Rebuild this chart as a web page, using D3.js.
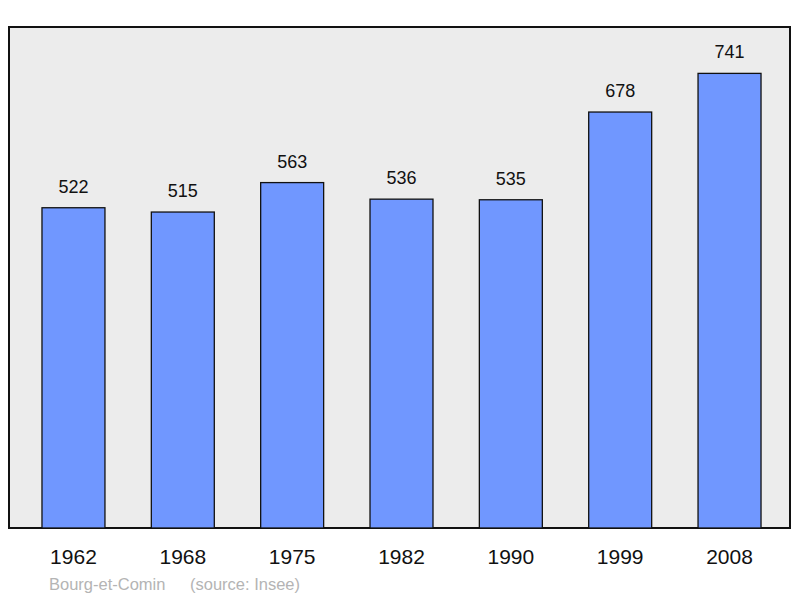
<!DOCTYPE html>
<html><head><meta charset="utf-8">
<script src="https://cdn.jsdelivr.net/npm/d3@7/dist/d3.min.js"></script>
<style>body{margin:0;background:#fff}svg{display:block}text{font-family:"Liberation Sans",Arial,sans-serif}</style>
</head><body><svg id="chart" width="800" height="598"></svg>
<script>
var years = ["1962", "1968", "1975", "1982", "1990", "1999", "2008"];
var population = [522, 515, 563, 536, 535, 678, 741];
var commune = "Bourg-et-Comin";
var source = "(source: Insee)";

var svg = d3.select("#chart");
var plotLeft = 9, plotRight = 790, plotTop = 27, plotBottom = 528;

var x = d3.scaleBand().domain(years).range([18.8, 784.2]).paddingInner(0.424).paddingOuter(0.212);
var y = d3.scaleLinear().domain([0, 816.6]).range([plotBottom, plotTop]);

svg.append("rect")
    .attr("x", plotLeft).attr("y", plotTop)
    .attr("width", plotRight - plotLeft).attr("height", plotBottom - plotTop)
    .attr("fill", "#ececec").attr("stroke", "#111").attr("stroke-width", 2);

svg.selectAll(".bar").data(population).enter().append("rect")
    .attr("class", "bar")
    .attr("x", function (d, i) { return x(years[i]); })
    .attr("y", function (d) { return y(d); })
    .attr("width", x.bandwidth())
    .attr("height", function (d) { return plotBottom - y(d); })
    .attr("fill", "#7097ff").attr("stroke", "#111").attr("stroke-width", 1.3);

svg.selectAll(".val").data(population).enter().append("text")
    .attr("x", function (d, i) { return x(years[i]) + x.bandwidth() / 2; })
    .attr("y", function (d) { return y(d) - 15; })
    .attr("text-anchor", "middle").attr("font-size", 18).attr("fill", "#111")
    .text(function (d) { return d; });

svg.selectAll(".yr").data(years).enter().append("text")
    .attr("x", function (d) { return x(d) + x.bandwidth() / 2; })
    .attr("y", 564)
    .attr("text-anchor", "middle").attr("font-size", 21).attr("fill", "#111")
    .text(function (d) { return d; });

svg.append("text").attr("x", 49).attr("y", 590).attr("font-size", 16.5).attr("fill", "#b4b4b4")
    .text(commune);
svg.append("text").attr("x", 190).attr("y", 590).attr("font-size", 16.5).attr("fill", "#b4b4b4")
    .text(source);
</script></body></html>
